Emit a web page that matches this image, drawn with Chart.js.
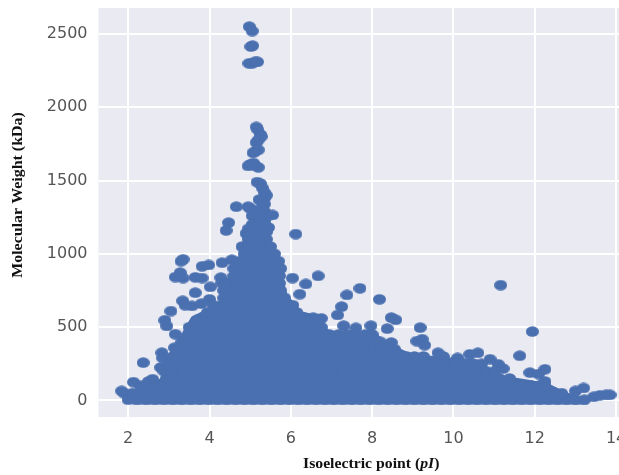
<!DOCTYPE html>
<html>
<head>
<meta charset="utf-8">
<style>
  html, body { margin: 0; padding: 0; background: #fff; overflow: hidden; }
  canvas { display: block; }
</style>
<script src="https://cdn.jsdelivr.net/npm/chart.js@4"></script>
</head>
<body>
<canvas id="myChart" width="640" height="475"></canvas>
<script>
    // isolated points, top peak first
    var peakPI = [4.98, 5.05, 5.02, 5.06, 4.97, 5.05, 5.12, 5.18, 5.15, 5.18, 5.25, 5.27, 5.2, 5.15, 5.13, 5.2, 5.07, 4.95, 5.0, 5.08, 5.13, 5.2, 5.17, 5.25, 5.3, 5.35, 5.4, 5.35, 5.22, 5.28, 5.35, 4.66, 4.95, 5.0, 5.2, 5.3, 5.35, 5.45, 5.55, 5.05, 5.15, 5.25, 5.35, 5.45, 5.4, 4.47, 4.41, 6.12, 5.05, 4.9, 4.95]
    var peakWeight = [2550, 2520, 2414, 2420, 2300, 2300, 2310, 2310, 1866, 1850, 1815, 1800, 1777, 1760, 1700, 1710, 1690, 1600, 1610, 1620, 1600, 1590, 1490, 1480, 1450, 1420, 1400, 1380, 1370, 1360, 1340, 1322, 1322, 1310, 1300, 1310, 1290, 1260, 1265, 1260, 1240, 1250, 1220, 1180, 1160, 1213, 1160, 1135, 1170, 1140, 1170]

    var leftPI = [3.35, 3.3, 3.82, 3.98, 3.28, 3.16, 3.35, 3.65, 3.82, 4.31, 4.55, 4.28, 4.02, 3.65, 3.34, 3.57, 3.4, 3.8, 4.0, 3.05, 2.9, 2.95, 3.16, 3.14, 2.83, 2.85, 2.37, 2.8, 2.13, 2.6, 2.5, 1.84, 1.9]
    var leftWeight = [963, 950, 915, 924, 872, 842, 835, 840, 835, 940, 960, 838, 775, 735, 680, 645, 650, 660, 690, 610, 547, 508, 452, 360, 326, 290, 258, 225, 125, 145, 130, 65, 50]

    var rightPI = [6.67, 6.37, 6.04, 6.22, 7.7, 7.38, 7.25, 7.15, 8.18, 8.47, 8.58, 8.37, 9.18, 9.1, 9.23, 9.29, 7.3, 7.6, 7.97, 6.75, 6.55, 8.47, 9.62, 9.75, 10.1, 10.4, 10.6, 10.9, 11.1, 11.22, 11.63, 11.94, 11.16, 11.88, 12.25, 12.09, 12.25, 13.0, 13.2, 13.45, 13.6, 13.75, 13.85]
    var rightWeight = [850, 795, 835, 725, 765, 720, 640, 583, 690, 565, 550, 490, 497, 405, 418, 377, 510, 495, 510, 560, 565, 395, 325, 300, 290, 315, 325, 281, 247, 217, 305, 470, 787, 190, 213, 180, 130, 65, 85, 25, 35, 38, 38]

    // the solid mass, estimated band by band: one weight, then the pI values seen at it
    var bandWeights = [5, 50, 100, 150, 200, 250, 300, 350, 400, 450, 500, 550, 600, 650, 700, 750, 800, 850, 900, 950, 1000, 1050, 1100, 1150, 1200]
    var bandPI = [
        [2.0, 2.22, 2.44, 2.66, 2.88, 3.1, 3.32, 3.54, 3.76, 3.98, 4.2, 4.42, 4.64, 4.86, 5.08, 5.3, 5.52, 5.74, 5.96, 6.18, 6.4, 6.62, 6.84, 7.06, 7.28, 7.5, 7.72, 7.94, 8.16, 8.38, 8.6, 8.82, 9.04, 9.26, 9.48, 9.7, 9.92, 10.14, 10.36, 10.58, 10.8, 11.02, 11.24, 11.46, 11.68, 11.9, 12.12, 12.34, 12.56, 12.78, 13.0, 13.22],
        [2.11, 2.33, 2.55, 2.77, 2.99, 3.21, 3.43, 3.65, 3.87, 4.09, 4.31, 4.53, 4.75, 4.97, 5.19, 5.41, 5.63, 5.85, 6.07, 6.29, 6.51, 6.73, 6.95, 7.17, 7.39, 7.61, 7.83, 8.05, 8.27, 8.49, 8.71, 8.93, 9.15, 9.37, 9.59, 9.81, 10.03, 10.25, 10.47, 10.69, 10.91, 11.13, 11.35, 11.57, 11.79, 12.01, 12.23, 12.45, 12.66],
        [2.3, 2.44, 2.66, 2.88, 3.1, 3.32, 3.54, 3.76, 3.98, 4.2, 4.42, 4.64, 4.86, 5.08, 5.3, 5.52, 5.74, 5.96, 6.18, 6.4, 6.62, 6.84, 7.06, 7.28, 7.5, 7.72, 7.94, 8.16, 8.38, 8.6, 8.82, 9.04, 9.26, 9.48, 9.7, 9.92, 10.14, 10.36, 10.58, 10.8, 11.02, 11.24, 11.46, 11.68, 11.9, 12.12, 12.25],
        [2.95, 3.21, 3.43, 3.65, 3.87, 4.09, 4.31, 4.53, 4.75, 4.97, 5.19, 5.41, 5.63, 5.85, 6.07, 6.29, 6.51, 6.73, 6.95, 7.17, 7.39, 7.61, 7.83, 8.05, 8.27, 8.49, 8.71, 8.93, 9.15, 9.37, 9.59, 9.81, 10.03, 10.25, 10.47, 10.69, 10.91, 11.13, 11.38],
        [2.88, 3.1, 3.32, 3.54, 3.76, 3.98, 4.2, 4.42, 4.64, 4.86, 5.08, 5.3, 5.52, 5.74, 5.96, 6.18, 6.4, 6.62, 6.84, 7.06, 7.28, 7.5, 7.72, 7.94, 8.16, 8.38, 8.6, 8.82, 9.04, 9.26, 9.48, 9.7, 9.92, 10.14, 10.36, 10.58, 10.8, 11.02],
        [2.99, 3.21, 3.43, 3.65, 3.87, 4.09, 4.31, 4.53, 4.75, 4.97, 5.19, 5.41, 5.63, 5.85, 6.07, 6.29, 6.51, 6.73, 6.95, 7.17, 7.39, 7.61, 7.83, 8.05, 8.27, 8.49, 8.71, 8.93, 9.15, 9.37, 9.59, 9.81, 10.03, 10.25, 10.47, 10.69],
        [3.1, 3.32, 3.54, 3.76, 3.98, 4.2, 4.42, 4.64, 4.86, 5.08, 5.3, 5.52, 5.74, 5.96, 6.18, 6.4, 6.62, 6.84, 7.06, 7.28, 7.5, 7.72, 7.94, 8.16, 8.38, 8.6, 8.85, 9.04, 9.26],
        [3.21, 3.43, 3.65, 3.87, 4.09, 4.31, 4.53, 4.75, 4.97, 5.19, 5.41, 5.63, 5.85, 6.07, 6.29, 6.51, 6.73, 6.95, 7.17, 7.39, 7.61, 7.83, 8.05, 8.27, 8.55],
        [3.32, 3.54, 3.76, 3.98, 4.2, 4.42, 4.64, 4.86, 5.08, 5.3, 5.52, 5.74, 5.96, 6.18, 6.4, 6.62, 6.84, 7.06, 7.28, 7.5, 7.72, 7.94, 8.2],
        [3.5, 3.65, 3.87, 4.09, 4.31, 4.53, 4.75, 4.97, 5.19, 5.41, 5.63, 5.85, 6.07, 6.29, 6.51, 6.73, 6.95, 7.17, 7.39, 7.61, 7.83, 8.0],
        [3.5, 3.76, 3.98, 4.2, 4.42, 4.64, 4.86, 5.08, 5.3, 5.52, 5.74, 5.96, 6.18, 6.4, 6.62, 6.75],
        [3.7, 3.87, 4.09, 4.31, 4.53, 4.75, 4.97, 5.19, 5.41, 5.63, 5.85, 6.07, 6.29, 6.51, 6.65],
        [3.95, 4.2, 4.42, 4.64, 4.86, 5.08, 5.3, 5.52, 5.74, 5.96, 6.15],
        [4.09, 4.31, 4.53, 4.75, 4.97, 5.19, 5.41, 5.63, 5.85, 6.05],
        [4.35, 4.42, 4.64, 4.86, 5.08, 5.3, 5.52, 5.74, 5.85],
        [4.35, 4.53, 4.75, 4.97, 5.19, 5.41, 5.63, 5.75],
        [4.3, 4.42, 4.64, 4.86, 5.08, 5.3, 5.52, 5.72],
        [4.6, 4.75, 4.97, 5.19, 5.41, 5.63, 5.72],
        [4.6, 4.86, 5.08, 5.3, 5.52, 5.75],
        [4.75, 4.97, 5.19, 5.41, 5.63, 5.7],
        [4.85, 5.08, 5.3, 5.52, 5.6],
        [4.8, 4.97, 5.19, 5.41, 5.5],
        [4.95, 5.08, 5.3, 5.4],
        [5.0, 5.19, 5.4],
        [5.05, 5.3]
    ]

    // top edge of the solid mass, where single dots can no longer be told apart
    var edgePI = [2.1, 2.3, 2.8, 2.9, 3.05, 3.25, 3.4, 3.55, 3.9, 4.2, 4.35, 4.6, 4.85, 5.05, 5.3, 5.6, 5.75, 5.9, 6.1, 6.25, 6.8, 6.85, 7.05, 8.05, 8.3, 8.65, 8.95, 9.6, 10.6, 10.8, 11.2, 12.3, 12.75, 13.3]
    var edgeWeight = [5, 110, 150, 260, 340, 420, 500, 570, 620, 650, 800, 900, 1020, 1200, 1230, 1010, 880, 730, 660, 610, 570, 500, 460, 470, 410, 360, 320, 300, 280, 230, 170, 120, 60, 5]
    var massFloor = -27

    var xTicks = [2, 4, 6, 8, 10, 12, 14]
    var yTicks = [0, 500, 1000, 1500, 2000, 2500]

    var points = []
    function addPoints(xs, ys) {
        for (var i = 0; i < xs.length; i++) {
            points.push({ x: xs[i], y: ys[i] })
        }
    }
    addPoints(peakPI, peakWeight)
    addPoints(leftPI, leftWeight)
    addPoints(rightPI, rightWeight)
    bandWeights.forEach(function(w, i) {
        bandPI[i].forEach(function(p) {
            points.push({ x: p, y: w })
        })
    })

    var edge = edgePI.map(function(p, i) {
        return { x: p, y: edgeWeight[i] }
    })

    // the source picture is stretched, so its dots are slightly wide
    var dot = document.createElement('canvas')
    dot.width = 13
    dot.height = 11
    var dotCtx = dot.getContext('2d')
    dotCtx.fillStyle = '#4a70b0'
    dotCtx.beginPath()
    dotCtx.ellipse(6.5, 5.5, 6.5, 5.3, 0, 0, Math.PI * 2)
    dotCtx.fill()

    var plotBackground = {
        id: 'plotBackground',
        beforeDraw: function(chart) {
            var a = chart.chartArea
            chart.ctx.fillStyle = '#eaeaf2'
            chart.ctx.fillRect(a.left, a.top, a.right - a.left, a.bottom - a.top)
        }
    }

    // titles: the x one has an italic part, and both are stretched like the source image
    var axisTitles = {
        id: 'axisTitles',
        afterDraw: function(chart) {
            var ctx = chart.ctx
            var bold = 'bold 15px "Liberation Serif"'
            var italic = 'italic bold 15px "Liberation Serif"'
            var parts = [['Isoelectric point (', bold], ['pI', italic], [')', bold]]
            var x = 0
            ctx.save()
            ctx.fillStyle = '#111'
            ctx.textBaseline = 'middle'
            ctx.textAlign = 'left'
            ctx.translate(303, 464)
            ctx.scale(1.05, 1)
            parts.forEach(function(p) {
                ctx.font = p[1]
                ctx.fillText(p[0], x, 0)
                x += ctx.measureText(p[0]).width
            })
            ctx.restore()

            ctx.save()
            ctx.fillStyle = '#111'
            ctx.textBaseline = 'middle'
            ctx.textAlign = 'center'
            ctx.font = 'bold 14.5px "Liberation Serif"'
            ctx.translate(18, 195)
            ctx.rotate(-Math.PI / 2)
            ctx.scale(1.1, 1)
            ctx.fillText('Molecular Weight (kDa)', 0, 0)
            ctx.restore()
        }
    }

    var ctx = document.getElementById('myChart').getContext('2d')
    var myChart = new Chart(ctx, {
        type: 'scatter',
        data: {
            datasets: [{
                label: 'Proteins',
                data: points,
                pointStyle: dot,
                pointRadius: 6,
                backgroundColor: '#4a70b0',
                borderWidth: 0,
                order: 1
            }, {
                type: 'line',
                label: 'Mass',
                data: edge,
                showLine: true,
                pointRadius: 0,
                tension: 0,
                borderWidth: 0,
                borderColor: '#4a70b0',
                backgroundColor: '#4a70b0',
                fill: { value: massFloor },
                order: 2
            }]
        },
        plugins: [plotBackground, axisTitles],
        options: {
            responsive: false,
            animation: false,
            layout: { padding: { top: 8, right: 0, bottom: 0, left: 0 } },
            plugins: {
                legend: { display: false },
                tooltip: { enabled: false }
            },
            scales: {
                x: {
                    type: 'linear',
                    min: 1.27,
                    max: 14.44,
                    afterBuildTicks: function(scale) {
                        scale.ticks = xTicks.map(function(v) { return { value: v } })
                    },
                    afterFit: function(scale) {
                        scale.height = 58
                        scale.paddingLeft = 0
                        scale.paddingRight = 0
                    },
                    grid: { color: '#ffffff', lineWidth: 2, tickColor: 'rgba(0,0,0,0)', tickLength: 12 },
                    border: { display: false },
                    ticks: {
                        color: '#555',
                        padding: 0,
                        maxRotation: 0,
                        font: { family: 'DejaVu Sans', size: 16 }
                    }
                },
                y: {
                    min: -113,
                    max: 2677,
                    afterBuildTicks: function(scale) {
                        scale.ticks = yTicks.map(function(v) { return { value: v } })
                    },
                    afterFit: function(scale) {
                        scale.width = 98.5
                        scale.paddingTop = 0
                        scale.paddingBottom = 0
                    },
                    grid: { color: '#ffffff', lineWidth: 2, tickColor: 'rgba(0,0,0,0)', tickLength: 11 },
                    border: { display: false },
                    ticks: {
                        color: '#555',
                        padding: 0,
                        callback: function(value) { return String(value) },
                        font: { family: 'DejaVu Sans', size: 16 }
                    }
                }
            }
        }
    })
</script>
</body>
</html>
